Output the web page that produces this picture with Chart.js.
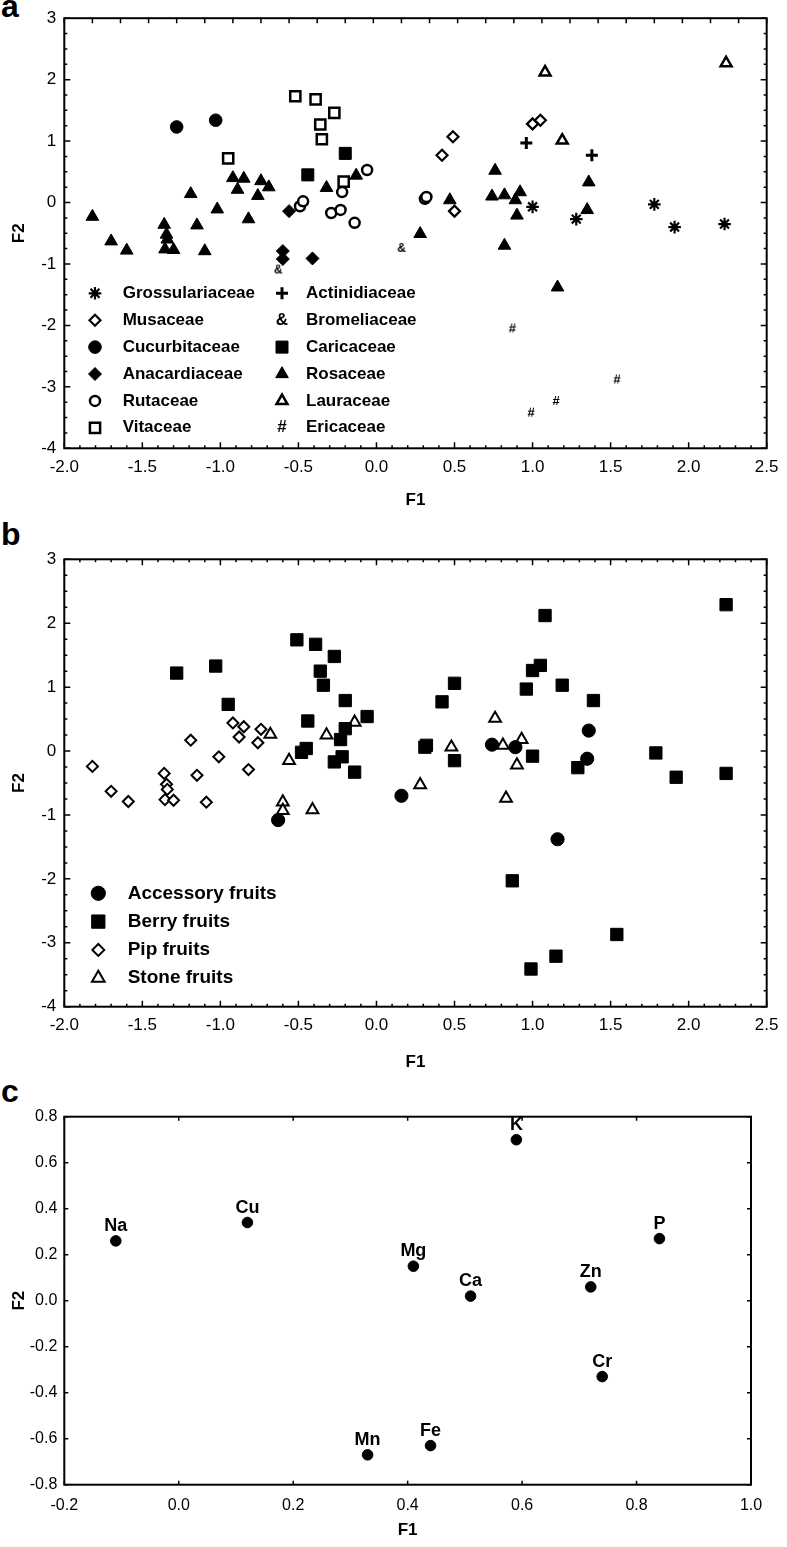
<!DOCTYPE html>
<html><head><meta charset="utf-8">
<script src="https://cdn.jsdelivr.net/npm/chart.js@4.4.1/dist/chart.umd.min.js"></script>
<style>
html,body{margin:0;padding:0;background:#fff;}
body{width:787px;height:1547px;position:relative;overflow:hidden;}
canvas{position:absolute;left:0;}
.lbl{position:absolute;left:1px;font:bold 32px 'Liberation Sans',Arial,sans-serif;line-height:32px;color:#000;}
</style></head><body>
<div class="lbl" style="top:-10px">a</div>
<div class="lbl" style="top:518px">b</div>
<div class="lbl" style="top:1075px">c</div>
<canvas id="ca" width="787" height="515" style="top:0"></canvas>
<canvas id="cb" width="787" height="570" style="top:505px"></canvas>
<canvas id="cc" width="787" height="477" style="top:1070px"></canvas>
<script>
const FONT = "'Liberation Sans', Arial, Helvetica, sans-serif";
Chart.defaults.font.family = FONT;
Chart.defaults.color = '#000';

// ---- tick labels ----
const f1TicksAB = [-2.0, -1.5, -1.0, -0.5, 0.0, 0.5, 1.0, 1.5, 2.0, 2.5];
const f2TicksAB = [-4, -3, -2, -1, 0, 1, 2, 3];
const f1TicksC = [-0.2, 0.0, 0.2, 0.4, 0.6, 0.8, 1.0];
const f2TicksC = [-0.8, -0.6, -0.4, -0.2, 0.0, 0.2, 0.4, 0.6, 0.8];

// ---- panel a : families (F1, F2) ----
const grossulariaceae = [[1.00,-0.07],[1.28,-0.27],[1.78,-0.03],[1.91,-0.40],[2.23,-0.35]];
const musaceae = [[0.42,0.77],[0.49,1.07],[1.00,1.28],[1.05,1.34],[0.50,-0.14]];
const cucurbitaceae = [[-1.28,1.23],[-1.03,1.34]];
const anacardiaceae = [[-0.56,-0.14],[-0.60,-0.79],[-0.60,-0.92],[-0.41,-0.91]];
const rutaceae = [[-0.49,-0.06],[-0.47,0.02],[-0.29,-0.17],[-0.23,-0.12],[-0.22,0.17],[-0.14,-0.33],[-0.06,0.53],[0.31,0.06],[0.32,0.09]];
const vitaceae = [[-0.95,0.72],[-0.52,1.73],[-0.39,1.68],[-0.27,1.46],[-0.36,1.27],[-0.35,1.03],[-0.21,0.34]];
const actinidiaceae = [[0.96,0.97],[1.38,0.77]];
const bromeliaceae = [[-0.63,-1.09],[0.16,-0.74]];
const caricaceae = [[-0.20,0.80],[-0.44,0.45]];
const rosaceae = [[-1.82,-0.23],[-1.70,-0.63],[-1.60,-0.78],[-1.36,-0.36],[-1.345,-0.52],[-1.34,-0.60],[-1.355,-0.76],[-1.30,-0.77],
  [-1.19,0.14],[-1.15,-0.37],[-1.10,-0.79],[-1.02,-0.11],[-0.92,0.40],[-0.85,0.39],[-0.89,0.21],[-0.82,-0.27],[-0.74,0.35],[-0.76,0.11],
  [-0.69,0.25],[-0.32,0.24],[-0.13,0.44],[0.28,-0.51],[0.47,0.04],[0.76,0.52],[0.74,0.10],[0.82,0.12],[0.89,0.04],[0.92,0.17],
  [0.90,-0.21],[0.82,-0.70],[1.36,0.33],[1.35,-0.12],[1.16,-1.38]];
const lauraceae = [[1.08,2.12],[2.24,2.27],[1.19,1.01]];
const ericaceae = [[0.87,-2.05],[1.54,-2.88],[1.15,-3.23],[0.99,-3.42]];

// ---- panel b : fruit types (F1, F2) ----
const accessoryFruits = [[-0.63,-1.08],[0.16,-0.70],[0.74,0.10],[0.89,0.06],[1.36,0.32],[1.35,-0.12],[1.16,-1.38]];
const berryFruits = [[-1.28,1.22],[-1.03,1.33],[-0.95,0.73],[-0.51,1.74],[-0.39,1.67],[-0.27,1.48],[-0.36,1.25],[-0.34,1.03],
  [-0.20,0.79],[-0.44,0.47],[-0.06,0.54],[-0.20,0.35],[-0.23,0.18],[-0.48,-0.02],[-0.45,0.04],[-0.27,-0.17],[-0.22,-0.09],[-0.14,-0.33],
  [0.31,0.06],[0.32,0.09],[0.42,0.77],[0.50,1.06],[0.50,-0.15],[0.96,0.97],[1.00,1.26],[1.05,1.34],[1.39,0.79],[1.08,2.12],[2.24,2.29],
  [1.19,1.03],[1.00,-0.08],[1.29,-0.26],[1.79,-0.03],[1.92,-0.41],[2.24,-0.35],[0.87,-2.03],[1.54,-2.87],[1.15,-3.21],[0.99,-3.41]];
const pipFruits = [[-1.82,-0.24],[-1.70,-0.63],[-1.59,-0.79],[-1.36,-0.35],[-1.345,-0.52],[-1.34,-0.60],[-1.355,-0.76],[-1.30,-0.77],
  [-1.19,0.17],[-1.15,-0.38],[-1.09,-0.80],[-1.01,-0.09],[-0.92,0.44],[-0.85,0.38],[-0.88,0.22],[-0.82,-0.29],[-0.74,0.34],[-0.76,0.13]];
const stoneFruits = [[-0.68,0.26],[-0.56,-0.15],[-0.60,-0.80],[-0.60,-0.93],[-0.41,-0.92],[-0.32,0.25],[-0.14,0.45],[0.28,-0.53],
  [0.48,0.06],[0.76,0.51],[0.81,0.09],[0.93,0.18],[0.90,-0.22],[0.83,-0.74]];

// ---- panel c : elements ----
const elements = ['Na','Cu','K','Mg','Ca','P','Zn','Cr','Mn','Fe'];
const elementF1 = [-0.11, 0.12, 0.59, 0.41, 0.51, 0.84, 0.72, 0.74, 0.33, 0.44];
const elementF2 = [0.26, 0.34, 0.70, 0.15, 0.02, 0.27, 0.06, -0.33, -0.67, -0.63];

const toPts = arr => arr.map(([x, y]) => ({x, y}));

function glyph(ch, size) {
  const c = document.createElement('canvas');
  c.width = 16; c.height = 16;
  const g = c.getContext('2d');
  g.font = 'bold ' + size + 'px ' + FONT;
  g.textAlign = 'center'; g.textBaseline = 'middle'; g.fillStyle = '#000';
  g.fillText(ch, 8, 8.5);
  return c;
}

// frame + inward ticks
const frameTicks = {
  id: 'frameTicks',
  beforeDatasetsDraw(chart, args, o) {
    const {ctx, chartArea: a} = chart;
    const xs = chart.scales.x, ys = chart.scales.y;
    ctx.save();
    ctx.strokeStyle = '#000';
    ctx.lineWidth = 1.5;
    const each = (spec, fn) => {
      if (!spec) return;
      const n = Math.round((spec.end - spec.start) / spec.step);
      for (let i = 0; i <= n; i++) {
        const v = spec.start + i * spec.step;
        const maj = spec.major ? Math.abs(v / spec.major - Math.round(v / spec.major)) < 1e-6 : false;
        fn(v, maj ? (spec.majLen || 6) : (spec.len || 3));
      }
    };
    ctx.beginPath();
    each(o.bottom, (v, l) => { const p = xs.getPixelForValue(v); ctx.moveTo(p, a.bottom); ctx.lineTo(p, a.bottom - l); });
    each(o.top, (v, l) => { const p = xs.getPixelForValue(v); ctx.moveTo(p, a.top); ctx.lineTo(p, a.top + l); });
    each(o.left, (v, l) => { const p = ys.getPixelForValue(v); ctx.moveTo(a.left, p); ctx.lineTo(a.left + l, p); });
    each(o.right, (v, l) => { const p = ys.getPixelForValue(v); ctx.moveTo(a.right, p); ctx.lineTo(a.right - l, p); });
    ctx.stroke();
    ctx.lineWidth = 2;
    ctx.strokeRect(a.left, a.top, a.right - a.left, a.bottom - a.top);
    ctx.restore();
  }
};

// legend drawn inside plot area
const boxLegend = {
  id: 'boxLegend',
  afterDraw(chart, args, o) {
    if (!o.rows) return;
    const ctx = chart.ctx;
    ctx.save();
    chart.data.datasets.forEach((ds, i) => {
      const col = Math.floor(i / o.rows), row = i % o.rows;
      const mx = o.markerX[col], tx = o.textX[col], yy = o.y0 + row * o.dy;
      ctx.fillStyle = '#000';
      if (ds.glyph) {
        ctx.font = o.font; ctx.textAlign = 'center'; ctx.textBaseline = 'middle';
        ctx.fillText(ds.glyph, mx, yy);
      } else {
        ctx.fillStyle = ds.backgroundColor; ctx.strokeStyle = ds.borderColor; ctx.lineWidth = ds.borderWidth;
        Chart.helpers.drawPoint(ctx, {pointStyle: ds.pointStyle, rotation: 0, radius: ds.pointRadius * (o.scale || 1), borderWidth: ds.borderWidth}, mx, yy);
      }
      ctx.fillStyle = '#000';
      ctx.font = o.font; ctx.textAlign = 'left'; ctx.textBaseline = 'middle';
      ctx.fillText(ds.label, tx, yy);
    });
    ctx.restore();
  }
};

// point labels (panel c)
const pointLabels = {
  id: 'pointLabels',
  afterDatasetsDraw(chart, args, o) {
    if (!o.labels) return;
    const ctx = chart.ctx;
    ctx.save();
    ctx.font = o.font; ctx.fillStyle = '#000'; ctx.textAlign = 'center'; ctx.textBaseline = 'alphabetic';
    chart.getDatasetMeta(0).data.forEach((pt, i) => ctx.fillText(o.labels[i], pt.x, pt.y - o.offset));
    ctx.restore();
  }
};

function scales(o) {
  return {
    x: {
      type: 'linear', position: 'bottom', min: o.xt[0], max: o.xt[o.xt.length - 1],
      afterBuildTicks: s => { s.ticks = o.xt.map(v => ({value: v})); },
      afterFit: s => { s.height = o.xh; },
      grid: {display: false, drawTicks: false}, border: {display: false},
      ticks: {autoSkip: false, maxRotation: 0, minRotation: 0, padding: o.xpad, color: '#000',
        font: {size: o.fs, family: FONT}, callback: v => Number(v).toFixed(1)},
      title: {display: true, text: 'F1', color: '#000', font: {size: 17, weight: 'bold', family: FONT}, padding: {top: 0, bottom: o.xtp}}
    },
    y: {
      type: 'linear', position: 'left', min: o.yt[0], max: o.yt[o.yt.length - 1],
      afterBuildTicks: s => { s.ticks = o.yt.map(v => ({value: v})); },
      afterFit: s => { s.width = 64.3; },
      grid: {display: false, drawTicks: false}, border: {display: false},
      ticks: {autoSkip: false, padding: o.ypad, color: '#000', font: {size: o.fs, family: FONT}, callback: o.yfmt},
      title: {display: true, text: 'F2', color: '#000', font: {size: 17, weight: 'bold', family: FONT}, padding: {top: 9, bottom: 0}}
    }
  };
}

function ds(label, data, style, radius, fill, bw, extra) {
  return Object.assign({label, data: toPts(data), pointStyle: style, pointRadius: radius, pointHoverRadius: radius,
    backgroundColor: fill, borderColor: '#000', borderWidth: bw}, extra || {});
}

const base = {animation: false, responsive: false, events: []};

// ---- chart a ----
new Chart(document.getElementById('ca'), {
  type: 'scatter',
  data: {datasets: [
    ds('Grossulariaceae', grossulariaceae, 'star', 6.3, '#000', 2.2),
    ds('Musaceae', musaceae, 'rectRot', 5.5, '#fff', 2.2),
    ds('Cucurbitaceae', cucurbitaceae, 'circle', 6.3, '#000', 1),
    ds('Anacardiaceae', anacardiaceae, 'rectRot', 6.5, '#000', 1),
    ds('Rutaceae', rutaceae, 'circle', 5, '#fff', 2.5),
    ds('Vitaceae', vitaceae, 'rect', 7.2, '#fff', 2.5),
    ds('Actinidiaceae', actinidiaceae, 'cross', 6, '#000', 3),
    ds('Bromeliaceae', bromeliaceae, glyph('&', 12), 6, '#000', 0, {glyph: '&'}),
    ds('Caricaceae', caricaceae, 'rect', 8.5, '#000', 1),
    ds('Rosaceae', rosaceae, 'triangle', 7.3, '#000', 1),
    ds('Lauraceae', lauraceae, 'triangle', 6.3, '#fff', 2.5),
    ds('Ericaceae', ericaceae, glyph('#', 13), 6, '#000', 0, {glyph: '#'})
  ]},
  options: Object.assign({}, base, {
    layout: {padding: {left: 0, right: 10.3, top: 6.7, bottom: 0}},
    scales: scales({xt: f1TicksAB, yt: f2TicksAB, xh: 66.7, xpad: 8.5, xtp: 4.8, ypad: 8, fs: 17, yfmt: v => String(v)}),
    plugins: {
      legend: {display: false}, tooltip: {enabled: false},
      frameTicks: {
        bottom: {start: -2, end: 2.5, step: 0.1, major: 0.5},
        top: {start: -2, end: 2.5, step: 0.18, len: 5},
        left: {start: -4, end: 3, step: 0.25, major: 1},
        right: {start: -4, end: 3, step: 0.25, major: 1}
      },
      boxLegend: {rows: 6, markerX: [95, 282], textX: [122.7, 306], y0: 293.3, dy: 26.9, font: 'bold 17px ' + FONT, scale: 1}
    }
  }),
  plugins: [frameTicks, boxLegend]
});

// ---- chart b ----
new Chart(document.getElementById('cb'), {
  type: 'scatter',
  data: {datasets: [
    ds('Accessory fruits', accessoryFruits, 'circle', 6.6, '#000', 1),
    ds('Berry fruits', berryFruits, 'rect', 8.7, '#000', 1),
    ds('Pip fruits', pipFruits, 'rectRot', 5.5, '#fff', 2),
    ds('Stone fruits', stoneFruits, 'triangle', 6.8, '#fff', 2)
  ]},
  options: Object.assign({}, base, {
    layout: {padding: {left: 0, right: 10.3, top: 54.3, bottom: 0}},
    scales: scales({xt: f1TicksAB, yt: f2TicksAB, xh: 68.3, xpad: 8.5, xtp: 2.3, ypad: 8, fs: 17, yfmt: v => String(v)}),
    plugins: {
      legend: {display: false}, tooltip: {enabled: false},
      frameTicks: {
        bottom: {start: -2, end: 2.5, step: 0.1, major: 0.5},
        top: {start: -2, end: 2.5, step: 0.1, major: 0.5},
        left: {start: -4, end: 3, step: 0.25, major: 1},
        right: {start: -4, end: 3, step: 0.25, major: 1}
      },
      boxLegend: {rows: 4, markerX: [98.3], textX: [127.7], y0: 388.3, dy: 28.3, font: 'bold 19px ' + FONT, scale: 1.08}
    }
  }),
  plugins: [frameTicks, boxLegend]
});

// ---- chart c ----
new Chart(document.getElementById('cc'), {
  type: 'scatter',
  data: {datasets: [{
    label: 'Elements',
    data: elementF1.map((x, i) => ({x, y: elementF2[i]})),
    pointStyle: 'circle', pointRadius: 5.3, pointHoverRadius: 5.3, backgroundColor: '#000', borderColor: '#000', borderWidth: 1
  }]},
  options: Object.assign({}, base, {
    layout: {padding: {left: 0, right: 36, top: 46.7, bottom: 0}},
    scales: scales({xt: f1TicksC, yt: f2TicksC, xh: 62.3, xpad: 11.5, xtp: 6.8, ypad: 7, fs: 16, yfmt: v => Number(v).toFixed(1)}),
    plugins: {
      legend: {display: false}, tooltip: {enabled: false},
      frameTicks: {
        bottom: {start: -0.2, end: 1.0, step: 0.2, len: 4},
        top: {start: -0.2, end: 1.0, step: 0.2, len: 4},
        left: {start: -0.8, end: 0.8, step: 0.2, len: 4},
        right: {start: -0.8, end: 0.8, step: 0.2, len: 4}
      },
      pointLabels: {labels: elements, font: 'bold 18px ' + FONT, offset: 10}
    }
  }),
  plugins: [frameTicks, pointLabels]
});
</script>
</body></html>
